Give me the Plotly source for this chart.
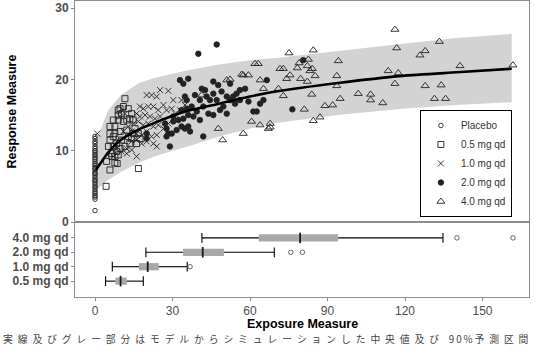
import plotly.graph_objects as go

# ---------------- data ----------------
group_names = ["Placebo", "0.5 mg qd", "1.0 mg qd", "2.0 mg qd", "4.0 mg qd"]

placebo_y = [12.0, 11.7, 11.3, 11.0, 10.6, 10.3, 10.0, 9.8, 9.5, 9.3, 9.0, 8.8, 8.5, 8.2,
             8.0, 7.7, 7.5, 7.3, 7.0, 6.8, 6.6, 6.3, 6.0, 5.8, 5.6, 5.3, 5.0, 4.8, 4.5,
             4.2, 4.0, 3.7, 3.5, 3.2, 1.6]
placebo_x = [0.0] * len(placebo_y)

d05_x = [5.8, 7.1, 7.7, 9.0, 9.7, 11.0, 11.6, 12.9, 14.2, 13.5, 14.8, 15.5, 16.8, 17.4, 12.3,
         10.3, 8.4, 7.1, 6.5, 8.4, 9.7, 11.6, 13.5, 14.2, 11.0, 9.0, 7.1, 5.8, 7.7, 9.7,
         12.3, 14.8, 16.1, 12.9, 4.5, 5.8, 7.7, 8.6, 16.8, 4.3, 5.2, 6.5, 7.7, 9.0, 9.0,
         10.3, 5.8]
d05_y = [12.4, 12.0, 13.4, 15.7, 15.9, 16.2, 17.3, 15.9, 15.2, 14.5, 14.3, 13.1, 12.4, 11.7, 12.9,
         11.5, 11.0, 10.6, 9.6, 9.9, 10.3, 10.6, 11.0, 11.7, 14.1, 14.3, 14.3, 11.5, 12.4, 12.7,
         14.3, 12.4, 11.0, 12.0, 8.5, 7.3, 8.3, 8.2, 7.5, 5.0, 10.6, 9.2, 9.2, 9.4, 15.0,
         15.2, 13.4]

d10_x = [20.0, 21.9, 23.9, 25.2, 28.4, 17.4, 18.7, 20.6, 22.6, 24.5, 26.5, 27.7, 29.7, 31.0,
         32.9, 16.1, 17.4, 19.4, 21.3, 23.2, 25.2, 14.8, 16.8, 18.7, 20.6, 22.6, 24.5, 26.5,
         28.4, 12.9, 14.2, 16.1, 18.1, 20.0, 21.9, 23.9, 14.2, 16.1, 18.1, 20.0, 22.6, 23.9,
         12.3, 10.3, 12.3, 14.2, 16.1, 8.4, 7.1, 9.0, 11.0, 9.7, 11.6, 30.3, 33.5, 34.8,
         0.9, 31.6]
d10_y = [17.8, 17.8, 17.6, 18.5, 18.4, 16.2, 15.9, 16.2, 16.2, 15.7, 16.4, 15.7, 15.9, 15.2,
         15.7, 15.2, 14.8, 15.0, 14.8, 14.5, 14.8, 13.8, 14.1, 13.6, 13.8, 13.4, 13.6, 13.1,
         13.8, 13.4, 12.7, 12.4, 12.2, 12.7, 12.0, 12.2, 11.3, 11.5, 11.0, 11.3, 11.0, 10.6,
         10.3, 9.9, 9.6, 10.1, 9.2, 10.3, 9.2, 11.5, 12.7, 14.8, 15.2, 17.1, 17.1, 16.4,
         12.4, 14.3]

d20_x = [20.0, 20.0, 29.0, 28.4, 27.7, 27.1, 30.3, 32.3, 34.2, 33.5, 34.8, 36.1, 36.8, 32.9,
         34.2, 36.1, 34.8, 35.5, 37.4, 39.4, 40.6, 41.9, 40.0, 47.1, 41.3, 42.6, 43.2, 44.5,
         45.8, 47.7, 49.0, 51.0, 52.3, 53.5, 54.8, 56.1, 58.1, 59.4, 61.3, 62.6, 63.9, 65.2,
         66.5, 48.4, 49.7, 51.0, 45.8, 43.9, 38.1, 30.3, 31.6, 29.7, 27.7, 45.8, 47.1, 40.6,
         41.9, 35.5, 33.5, 36.1, 52.3, 56.1, 54.2, 38.7, 80.6, 76.4]
d20_y = [12.4, 11.7, 10.6, 12.4, 12.0, 13.8, 14.1, 14.3, 14.5, 13.4, 13.1, 13.4, 12.7, 19.9,
         19.4, 20.1, 17.6, 17.1, 16.2, 15.5, 14.3, 12.0, 23.6, 24.9, 18.7, 18.5, 17.6, 17.1,
         19.7, 19.2, 18.3, 17.6, 17.1, 17.6, 18.0, 18.5, 18.7, 16.9, 15.5, 15.5, 16.6, 17.1,
         19.9, 15.7, 16.2, 15.2, 15.0, 15.2, 14.8, 14.8, 12.9, 12.4, 13.1, 18.0, 17.1, 17.1,
         16.2, 15.9, 15.7, 15.0, 19.4, 17.1, 16.6, 17.8, 22.7, 15.8]

d40_x = [116.1, 133.3, 116.8, 127.8, 125.8, 75.1, 84.5, 94.2, 79.0, 82.6, 82.2, 71.6, 72.9,
         78.3, 83.2, 84.1, 85.2, 75.5, 74.2, 79.6, 82.2, 93.6, 93.6, 113.5, 117.4, 141.3,
         161.8, 116.1, 127.8, 134.0, 72.9, 83.9, 94.9, 101.9, 106.7, 106.7, 111.4, 131.4,
         135.7, 81.0, 89.0, 92.0, 87.1, 84.5, 67.8, 67.8, 71.0, 61.9, 63.2, 57.4, 59.4, 63.9,
         51.0, 52.3, 57.4, 60.6, 63.9, 67.1, 47.7, 49.4, 41.3, 65.2, 56.8]
d40_y = [27.0, 25.3, 24.4, 24.0, 23.4, 23.7, 24.1, 22.6, 22.3, 22.8, 21.9, 21.5, 21.5,
         21.6, 21.2, 21.5, 20.5, 20.6, 20.1, 20.1, 19.7, 20.5, 19.1, 21.2, 20.9, 21.9,
         22.0, 19.4, 19.1, 19.2, 17.7, 17.9, 17.3, 18.0, 17.9, 17.1, 16.7, 17.3,
         17.3, 15.8, 16.3, 16.4, 14.7, 14.2, 13.8, 13.3, 18.7, 22.2, 22.2, 20.6, 20.6, 19.9,
         19.9, 20.0, 12.4, 14.1, 13.6, 13.1, 13.1, 11.5, 17.8, 18.7, 20.7]

# model simulation: median and 90% prediction interval
model_x = [0.3, 1.5, 5, 10, 17, 23, 30, 36, 48, 60, 70, 94, 119, 140, 161.3]
model_lo = [4.5, 4.8, 5.9, 7.0, 8.3, 9.2, 10.0, 10.6, 12.0, 13.1, 13.9, 15.0, 15.9, 16.4, 16.8]
model_hi = [11.3, 12.3, 15.6, 17.8, 19.5, 20.2, 20.8, 21.3, 22.1, 22.7, 23.0, 24.0, 25.0, 25.8, 26.4]
model_med = [7.3, 7.9, 9.7, 11.5, 13.0, 13.9, 14.9, 15.6, 16.6, 17.6, 18.3, 19.5, 20.5, 21.0, 21.5]

# exposure box plot statistics (bottom panel)
box_labels = ["0.5 mg qd", "1.0 mg qd", "2.0 mg qd", "4.0 mg qd"]
box_pos = [1, 2, 3, 4]
box_lo = [4.1, 6.7, 19.7, 41.4]
box_q1 = [7.9, 17.0, 34.1, 63.4]
box_med = [9.9, 20.4, 41.7, 79.4]
box_q3 = [12.3, 24.7, 49.9, 94.1]
box_hi = [18.7, 35.7, 69.4, 134.7]
out_x = [36.8, 75.8, 80.3, 140.1, 161.8]
out_pos = [2, 3, 3, 4, 4]

x_ticks = [0, 30, 60, 90, 120, 150]
y_ticks = [0, 10, 20, 30]
caption = "実線及びグレー部分はモデルからシミュレーションした中央値及び 90%予測区間"

# ---------------- figure ----------------
FONT = "Liberation Sans, Arial, sans-serif"
MK = "#222222"
fig = go.Figure()

# prediction band
fig.add_trace(go.Scatter(x=model_x, y=model_lo, mode="lines", line=dict(width=0, color="#d3d3d3"),
                         showlegend=False, hoverinfo="skip"))
fig.add_trace(go.Scatter(x=model_x, y=model_hi, mode="lines", line=dict(width=0, color="#d3d3d3"),
                         fill="tonexty", fillcolor="#d3d3d3", showlegend=False, hoverinfo="skip"))

series = [
    (placebo_x, placebo_y, "circle-open", 4.5),
    (d05_x, d05_y, "square-open", 6),
    (d10_x, d10_y, "x-thin-open", 6),
    (d20_x, d20_y, "circle", 5.5),
    (d40_x, d40_y, "triangle-up-open", 7),
]
for name, (sx, sy, sym, sz) in zip(group_names, series):
    fig.add_trace(go.Scatter(x=sx, y=sy, mode="markers", name=name,
                             marker=dict(symbol=sym, size=sz, color=MK,
                                         line=dict(width=0.9, color=MK))))

fig.add_trace(go.Scatter(x=model_x, y=model_med, mode="lines", line=dict(width=2.6, color="black",
                         shape="spline", smoothing=0.6), showlegend=False, hoverinfo="skip"))

# bottom panel: box plots
fig.add_trace(go.Bar(y=box_pos, x=[b - a for a, b in zip(box_q1, box_q3)], base=box_q1,
                     orientation="h", width=0.5, marker=dict(color="#a8a8a8", line=dict(width=0)),
                     xaxis="x2", yaxis="y2", showlegend=False))
wx, wy = [], []
for p, lo, q1, q3, hi in zip(box_pos, box_lo, box_q1, box_q3, box_hi):
    wx += [lo, q1, None, q3, hi, None]
    wy += [p, p, None, p, p, None]
fig.add_trace(go.Scatter(x=wx, y=wy, mode="lines", line=dict(color="black", width=1.1),
                         xaxis="x2", yaxis="y2", showlegend=False))
fig.add_trace(go.Scatter(x=box_lo + box_hi, y=box_pos + box_pos, mode="markers",
                         marker=dict(symbol="line-ns", size=7, line=dict(width=1.1, color="black")),
                         xaxis="x2", yaxis="y2", showlegend=False))
fig.add_trace(go.Scatter(x=box_med, y=box_pos, mode="markers",
                         marker=dict(symbol="line-ns", size=7.5, line=dict(width=1.8, color="#1a1a1a")),
                         xaxis="x2", yaxis="y2", showlegend=False))
fig.add_trace(go.Scatter(x=out_x, y=out_pos, mode="markers",
                         marker=dict(symbol="circle-open", size=4.5, color="#555555",
                                     line=dict(width=0.9, color="#555555")),
                         xaxis="x2", yaxis="y2", showlegend=False))

split = 75 / 296
xr = [-7.74, 168.0]
FRAME = "#8c8c8c"
TICKC = "#4d4d4d"

fig.update_layout(
    width=535, height=351,
    margin=dict(l=75, r=6, t=1, b=54, autoexpand=False),
    paper_bgcolor="white", plot_bgcolor="white",
    font=dict(family=FONT, color=TICKC),
    xaxis=dict(domain=[0, 1], anchor="y", range=xr, showticklabels=False, ticks="",
               showline=True, mirror=True, linecolor=FRAME, linewidth=1,
               showgrid=False, zeroline=False),
    yaxis=dict(domain=[split, 1], anchor="x", range=[0, 31], tickvals=y_ticks,
               ticks="outside", ticklen=3, tickcolor=FRAME,
               tickfont=dict(size=12, color=TICKC, weight="bold"),
               showline=True, mirror=True, linecolor=FRAME, linewidth=1,
               showgrid=False, zeroline=False),
    xaxis2=dict(domain=[0, 1], anchor="y2", range=xr, tickvals=x_ticks,
                ticks="outside", ticklen=3, tickcolor=FRAME,
                tickfont=dict(size=12, color=TICKC),
                showline=True, mirror=True, linecolor=FRAME, linewidth=1,
                showgrid=False, zeroline=False),
    yaxis2=dict(domain=[0, split], anchor="x2", range=[-0.1, 5.1], tickvals=box_pos,
                ticktext=box_labels, ticks="outside", ticklen=3, tickcolor=FRAME,
                tickfont=dict(size=12, color=TICKC, weight="bold"),
                showline=True, mirror=True, linecolor=FRAME, linewidth=1,
                showgrid=False, zeroline=False),
    legend=dict(x=0.861, y=0.451, xanchor="center", yanchor="middle",
                traceorder="normal",
                font=dict(size=10, color="#333333", family=FONT),
                bordercolor="black", borderwidth=1, bgcolor="white",
                itemwidth=30, tracegroupgap=0),
    showlegend=True,
)

# axis titles and caption
fig.add_annotation(text="<b>Response Measure</b>", xref="paper", yref="paper",
                   x=0, xshift=-63, y=(split + 1) / 2, xanchor="center", yanchor="middle",
                   textangle=-90, showarrow=False, font=dict(size=12.5, color="black", family=FONT))
fig.add_annotation(text="<b>Exposure Measure</b>", xref="paper", yref="paper",
                   x=0.5, y=0, yshift=-27, xanchor="center", yanchor="middle",
                   showarrow=False, font=dict(size=12.5, color="black", family=FONT))

spaced = ""
for ch in caption:
    if ch == " ":
        spaced += "\u2002"
    elif ord(ch) < 128:
        spaced += ch + "\u2009"
    else:
        spaced += ch + "\u2002"
fig.add_annotation(text=spaced.strip(), xref="paper", yref="paper",
                   x=0, xshift=-74, y=0, yshift=-42, xanchor="left", yanchor="middle",
                   showarrow=False, font=dict(size=9.8, color="#444444",
                                              family="Noto Sans CJK JP, sans-serif"))

fig.write_html("out.html")
